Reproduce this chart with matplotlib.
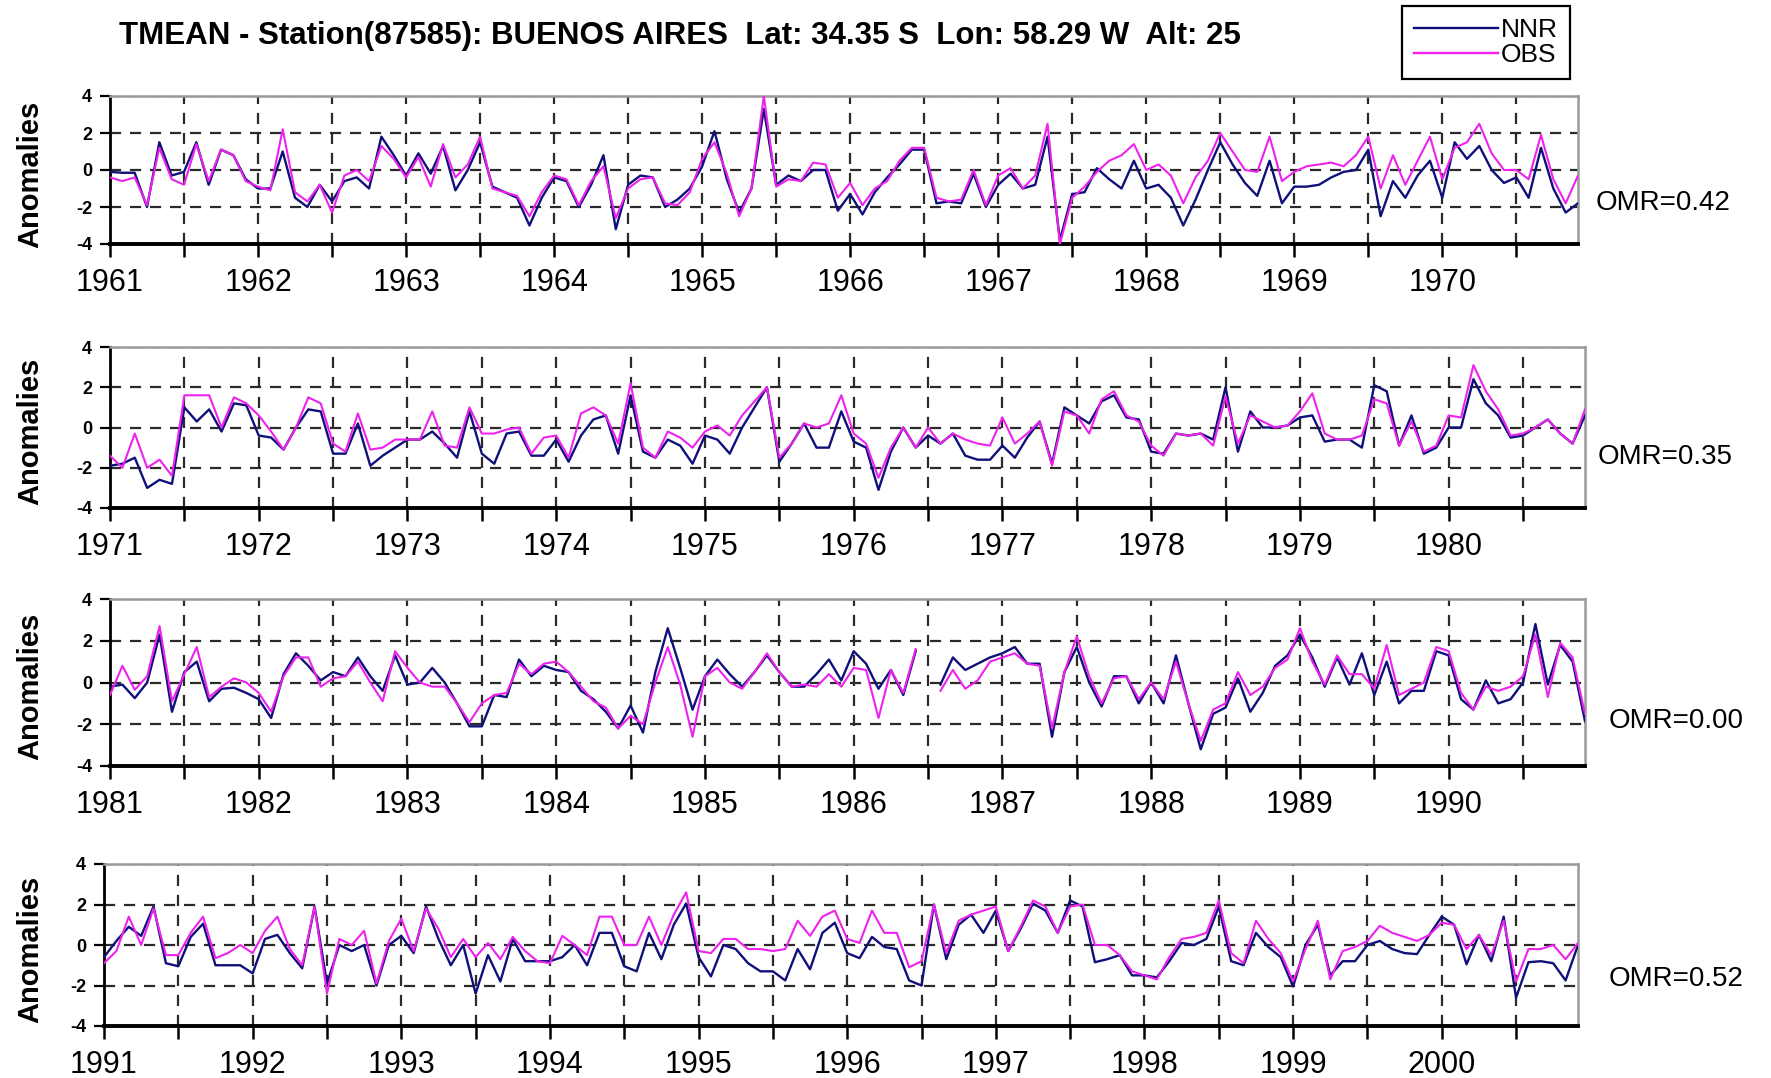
import numpy as np
import matplotlib
matplotlib.use("Agg")
import matplotlib.pyplot as plt
from matplotlib.lines import Line2D

nan = np.nan

title = "TMEAN - Station(87585): BUENOS AIRES  Lat: 34.35 S  Lon: 58.29 W  Alt: 25"
series_names = ["NNR", "OBS"]
start_years = [1961, 1971, 1981, 1991]
omr_labels = ["OMR=0.42", "OMR=0.35", "OMR=0.00", "OMR=0.52"]
y_ticks = [-4, -2, 0, 2, 4]

nnr_1961 = [-0.1, -0.15, -0.15, -2.0, 1.5, -0.3, -0.1, 1.5, -0.8, 1.1, 0.8, -0.5,
            -1.0, -1.0, 1.0, -1.5, -2.0, -0.8, -1.7, -0.6, -0.4, -1.0, 1.8, 0.8,
            -0.3, 0.9, -0.2, 1.3, -1.1, 0.0, 1.5, -0.9, -1.2, -1.5, -3.0, -1.5,
            -0.4, -0.6, -2.0, -0.8, 0.8, -3.2, -0.8, -0.3, -0.4, -2.0, -1.6, -1.0,
            0.2, 2.1, -0.5, -2.3, -1.0, 3.3, -0.8, -0.3, -0.6, 0.0, 0.0, -2.2,
            -1.3, -2.4, -1.2, -0.4, 0.3, 1.1, 1.1, -1.8, -1.7, -1.8, -0.2, -2.0,
            -0.8, -0.2, -1.0, -0.8, 1.8, -3.8, -1.3, -1.2, 0.1, -0.5, -1.0, 0.5,
            -1.0, -0.8, -1.5, -3.0, -1.6, 0.0, 1.5, 0.3, -0.7, -1.4, 0.5, -1.8,
            -0.9, -0.9, -0.8, -0.4, -0.1, 0.0, 1.1, -2.5, -0.6, -1.5, -0.3, 0.5,
            -1.5, 1.5, 0.6, 1.3, 0.0, -0.7, -0.4, -1.5, 1.2, -1.0, -2.3, -1.8]
obs_1961 = [-0.4, -0.6, -0.4, -1.9, 1.2, -0.5, -0.8, 1.4, -0.6, 1.1, 0.8, -0.6,
            -0.9, -1.1, 2.2, -1.2, -1.7, -0.8, -2.3, -0.3, 0.0, -0.6, 1.3, 0.6,
            -0.4, 0.7, -0.9, 1.4, -0.4, 0.3, 1.8, -1.0, -1.2, -1.4, -2.5, -1.2,
            -0.3, -0.5, -1.9, -0.6, 0.2, -2.6, -1.0, -0.5, -0.4, -1.8, -1.9, -1.2,
            0.6, 1.5, -0.2, -2.5, -1.0, 4.0, -0.9, -0.5, -0.6, 0.4, 0.3, -1.5,
            -0.7, -1.9, -1.0, -0.6, 0.5, 1.2, 1.2, -1.5, -1.7, -1.6, 0.0, -1.9,
            -0.3, 0.1, -1.0, -0.3, 2.5, -4.0, -1.5, -0.9, -0.1, 0.5, 0.8, 1.4,
            0.0, 0.3, -0.3, -1.8, -0.4, 0.5, 2.0, 1.0, 0.0, -0.1, 1.8, -0.6,
            -0.1, 0.2, 0.3, 0.4, 0.2, 0.8, 1.8, -1.0, 0.8, -0.8, 0.5, 1.8,
            -0.5, 1.2, 1.5, 2.5, 0.9, 0.0, 0.0, -0.5, 1.9, -0.5, -1.8, -0.3]

nnr_1971 = [-1.9, -1.8, -1.5, -3.0, -2.6, -2.8, 1.0, 0.3, 0.9, -0.2, 1.2, 1.1,
            -0.4, -0.5, -1.1, 0.0, 0.9, 0.8, -1.3, -1.3, 0.2, -1.9, -1.4, -1.0,
            -0.6, -0.6, -0.2, -0.8, -1.5, 0.8, -1.3, -1.8, -0.3, -0.2, -1.4, -1.4,
            -0.6, -1.7, -0.4, 0.4, 0.6, -1.3, 1.6, -1.2, -1.5, -0.6, -0.9, -1.8,
            -0.4, -0.6, -1.3, 0.0, 1.0, 2.0, -1.7, -0.8, 0.2, -1.0, -1.0, 0.8,
            -0.7, -1.0, -3.1, -1.2, 0.0, -1.0, -0.4, -0.8, -0.3, -1.4, -1.6, -1.6,
            -0.9, -1.5, -0.5, 0.3, -1.8, 1.0, 0.6, 0.2, 1.3, 1.6, 0.5, 0.4,
            -1.2, -1.3, -0.3, -0.4, -0.3, -0.6, 2.0, -1.2, 0.8, 0.0, 0.0, 0.1,
            0.5, 0.6, -0.7, -0.6, -0.6, -1.0, 2.1, 1.8, -0.9, 0.6, -1.3, -1.0,
            0.0, 0.0, 2.4, 1.2, 0.6, -0.5, -0.4, 0.0, 0.4, -0.3, -0.8, 0.6]
obs_1971 = [-1.4, -2.0, -0.3, -2.0, -1.6, -2.4, 1.6, 1.6, 1.6, 0.0, 1.5, 1.2,
            0.6, -0.2, -1.1, 0.0, 1.5, 1.2, -0.8, -1.2, 0.7, -1.1, -1.0, -0.6,
            -0.6, -0.6, 0.8, -0.9, -1.0, 1.0, -0.3, -0.3, -0.1, 0.0, -1.3, -0.5,
            -0.4, -1.5, 0.7, 1.0, 0.6, -0.8, 2.2, -1.0, -1.5, -0.2, -0.5, -1.0,
            -0.2, 0.1, -0.4, 0.6, 1.3, 2.0, -1.5, -0.8, 0.2, 0.0, 0.2, 1.6,
            -0.3, -0.8, -2.5, -1.0, 0.0, -1.0, 0.0, -0.8, -0.3, -0.6, -0.8, -0.9,
            0.5, -0.8, -0.3, 0.3, -1.9, 0.8, 0.6, -0.3, 1.4, 1.8, 0.6, 0.3,
            -0.9, -1.4, -0.3, -0.4, -0.3, -0.9, 1.55, -0.8, 0.6, 0.3, 0.0, 0.1,
            0.8, 1.7, -0.3, -0.6, -0.6, -0.4, 1.4, 1.2, -0.9, 0.3, -1.2, -0.9,
            0.6, 0.5, 3.1, 1.8, 0.9, -0.4, -0.3, 0.0, 0.4, -0.3, -0.8, 0.9]

nnr_1981 = [-0.2, -0.1, -0.75, 0.0, 2.3, -1.4, 0.5, 1.0, -0.9, -0.3, -0.25, -0.5,
            -0.8, -1.7, 0.4, 1.4, 0.8, 0.1, 0.5, 0.3, 1.2, 0.3, -0.4, 1.3,
            -0.1, 0.0, 0.7, 0.0, -1.0, -2.1, -2.1, -0.6, -0.7, 1.1, 0.3, 0.8,
            0.6, 0.5, -0.4, -0.8, -1.4, -2.2, -1.1, -2.4, 0.5, 2.6, 0.7, -1.3,
            0.3, 1.1, 0.4, -0.2, 0.5, 1.3, 0.5, -0.2, -0.2, 0.4, 1.1, 0.1,
            1.5, 0.9, -0.3, 0.6, -0.6, 1.5, nan, -0.1, 1.2, 0.6, 0.9, 1.2,
            1.4, 1.7, 0.9, 0.9, -2.6, 0.5, 1.7, 0.0, -1.15, 0.3, 0.3, -1.0,
            0.0, -1.0, 1.3, -1.0, -3.2, -1.5, -1.2, 0.2, -1.4, -0.5, 0.8, 1.3,
            2.3, 1.2, -0.2, 1.2, -0.1, 1.4, -0.6, 1.0, -1.0, -0.4, -0.4, 1.5,
            1.3, -0.8, -1.3, 0.1, -1.0, -0.8, 0.0, 2.8, -0.1, 1.8, 1.0, -1.85]
obs_1981 = [-0.6, 0.8, -0.35, 0.3, 2.7, -0.9, 0.4, 1.7, -0.7, -0.2, 0.2, 0.0,
            -0.5, -1.4, 0.3, 1.2, 1.2, -0.2, 0.2, 0.3, 1.0, 0.0, -0.9, 1.5,
            0.7, 0.0, -0.2, -0.2, -1.0, -1.9, -1.0, -0.6, -0.5, 0.9, 0.4, 0.9,
            1.0, 0.5, -0.2, -0.9, -1.2, -2.2, -1.6, -2.0, 0.0, 1.7, -0.1, -2.6,
            0.3, 0.7, 0.0, -0.3, 0.5, 1.4, 0.5, -0.2, -0.1, -0.2, 0.4, -0.2,
            0.7, 0.6, -1.7, 0.6, -0.5, 1.6, nan, -0.4, 0.6, -0.3, 0.1, 1.0,
            1.2, 1.4, 0.9, 0.8, -2.2, 0.5, 2.2, 0.3, -1.0, 0.2, 0.3, -0.8,
            0.0, -0.8, 1.0, -1.0, -2.8, -1.3, -1.0, 0.5, -0.6, -0.2, 0.7, 1.1,
            2.6, 1.0, -0.1, 1.3, 0.4, 0.4, -0.3, 1.8, -0.6, -0.3, 0.0, 1.7,
            1.5, -0.5, -1.3, -0.2, -0.4, -0.2, 0.3, 2.3, -0.7, 1.9, 1.2, -1.5]

nnr_1991 = [-0.6, 0.2, 0.9, 0.45, 1.9, -0.9, -1.05, 0.4, 1.05, -1.0, -1.0, -1.0,
            -1.4, 0.3, 0.5, -0.4, -1.15, 1.9, -1.9, 0.0, -0.3, 0.0, -2.0, 0.0,
            0.45, -0.4, 1.9, 0.3, -1.0, 0.0, -2.4, -0.5, -1.8, 0.3, -0.8, -0.8,
            -0.8, -0.6, 0.0, -1.0, 0.6, 0.6, -1.05, -1.3, 0.6, -0.7, 1.0, 2.05,
            -0.6, -1.55, 0.0, -0.2, -0.9, -1.3, -1.3, -1.75, -0.2, -1.2, 0.6, 1.1,
            -0.4, -0.65, 0.4, -0.1, -0.2, -1.75, -2.0, 2.0, -0.7, 1.0, 1.5, 0.6,
            1.7, -0.3, 0.8, 2.05, 1.7, 0.6, 2.2, 1.9, -0.85, -0.7, -0.5, -1.5,
            -1.5, -1.6, -0.8, 0.1, 0.0, 0.3, 1.9, -0.8, -1.0, 0.6, -0.1, -0.6,
            -2.05, 0.0, 1.0, -1.5, -0.8, -0.8, 0.0, 0.2, -0.2, -0.4, -0.45, 0.5,
            1.4, 1.0, -0.95, 0.5, -0.8, 1.4, -2.6, -0.85, -0.8, -0.9, -1.75, 0.0]
obs_1991 = [-0.9, -0.3, 1.4, 0.0, 1.8, -0.5, -0.5, 0.6, 1.4, -0.65, -0.4, 0.0,
            -0.4, 0.7, 1.4, -0.2, -1.0, 1.9, -2.4, 0.3, 0.0, 0.7, -1.9, 0.2,
            1.3, -0.3, 1.8, 0.8, -0.6, 0.3, -0.6, 0.1, -0.7, 0.4, -0.3, -0.8,
            -0.9, 0.45, 0.0, -0.5, 1.4, 1.4, 0.0, 0.0, 1.4, 0.0, 1.5, 2.6,
            -0.3, -0.4, 0.3, 0.3, -0.2, -0.2, -0.3, -0.2, 1.2, 0.45, 1.4, 1.7,
            0.3, 0.1, 1.7, 0.6, 0.6, -1.1, -0.8, 2.0, -0.4, 1.2, 1.5, 1.7,
            1.9, -0.3, 0.9, 2.2, 1.9, 0.6, 1.9, 2.0, 0.0, 0.0, -0.5, -1.3,
            -1.5, -1.7, -0.6, 0.3, 0.4, 0.6, 2.2, -0.4, -0.9, 1.2, 0.3, -0.4,
            -1.8, -0.2, 1.2, -1.7, -0.3, -0.1, 0.2, 0.95, 0.6, 0.4, 0.2, 0.5,
            1.1, 1.0, -0.2, 0.5, -0.5, 1.2, -1.8, -0.2, -0.2, 0.0, -0.7, 0.1]

nnr_panels = [nnr_1961, nnr_1971, nnr_1981, nnr_1991]
obs_panels = [obs_1961, obs_1971, obs_1981, obs_1991]

W, H = 1771, 1078
fig = plt.figure(figsize=(W / 100, H / 100), dpi=100)
fig.patch.set_facecolor("white")

FONT = ["Liberation Sans", "DejaVu Sans"]

# panel boxes in pixels: left, right, top, bottom
boxes = [(110, 1578, 96, 244), (110, 1585, 347, 508),
         (110, 1585, 599, 766), (104, 1578, 864, 1026)]
omr_pos = [(1596, 203), (1598, 457), (1609, 721), (1609, 979)]

NNR_C = "#10107a"
OBS_C = "#ee22ee"

for i, (l, r, t, b) in enumerate(boxes):
    ax = fig.add_axes([l / W, 1 - b / H, (r - l) / W, (b - t) / H])
    n = len(nnr_panels[i])
    x = np.arange(n)
    ax.plot(x, nnr_panels[i], color=NNR_C, lw=1.7, zorder=3)
    ax.plot(x, obs_panels[i], color=OBS_C, lw=1.5, zorder=4)
    ax.set_xlim(0, n - 1)
    ax.set_ylim(-4, 4)
    ticks = list(range(0, n, 6))
    ax.set_xticks(ticks)
    ax.set_xticklabels([str(start_years[i] + k // 12) if k % 12 == 0 else "" for k in ticks],
                       fontsize=22, family=FONT)
    ax.set_yticks(y_ticks)
    ax.set_yticklabels([str(v) for v in y_ticks], fontsize=13, fontweight="bold", family=FONT)
    ax.tick_params(axis="x", direction="out", length=9, width=1.8, pad=8, color="black")
    ax.tick_params(axis="y", direction="out", length=7, width=1.6, pad=6, color="black")
    ax.grid(True, which="major", color="#2a2a2a", linestyle=(0, (5, 4)), linewidth=1.6, zorder=1)
    for s in ["top", "right"]:
        ax.spines[s].set_color("#9a9a9a")
        ax.spines[s].set_linewidth(1.8)
    ax.spines["left"].set_color("black")
    ax.spines["left"].set_linewidth(2.0)
    ax.spines["bottom"].set_color("black")
    ax.spines["bottom"].set_linewidth(2.8)
    ax.set_axisbelow(True)
    fig.text(30 / W, 1 - ((t + b) / 2 + 4) / H, "Anomalies", rotation=90, ha="center", va="center",
             fontsize=21, fontweight="bold", family=FONT)
    ox, oy = omr_pos[i]
    fig.text(ox / W, 1 - oy / H, omr_labels[i], ha="left", va="center", fontsize=20, family=FONT)

fig.text(119 / W, 1 - 36 / H, title, ha="left", va="center", fontsize=22.5,
         fontweight="bold", family=FONT)

handles = [Line2D([], [], color=NNR_C, lw=1.7), Line2D([], [], color=OBS_C, lw=1.7)]
leg = fig.legend(handles, series_names, loc="upper right", bbox_to_anchor=(1570 / W, 1 - 6 / H),
                 prop={"family": FONT, "size": 19}, handlelength=3.2, handletextpad=0.1,
                 labelspacing=0.05, borderpad=0.45, fancybox=False, framealpha=1,
                 edgecolor="black", borderaxespad=0)
leg.get_frame().set_linewidth(1.6)

fig.savefig("out.png", dpi=100, facecolor="white")
